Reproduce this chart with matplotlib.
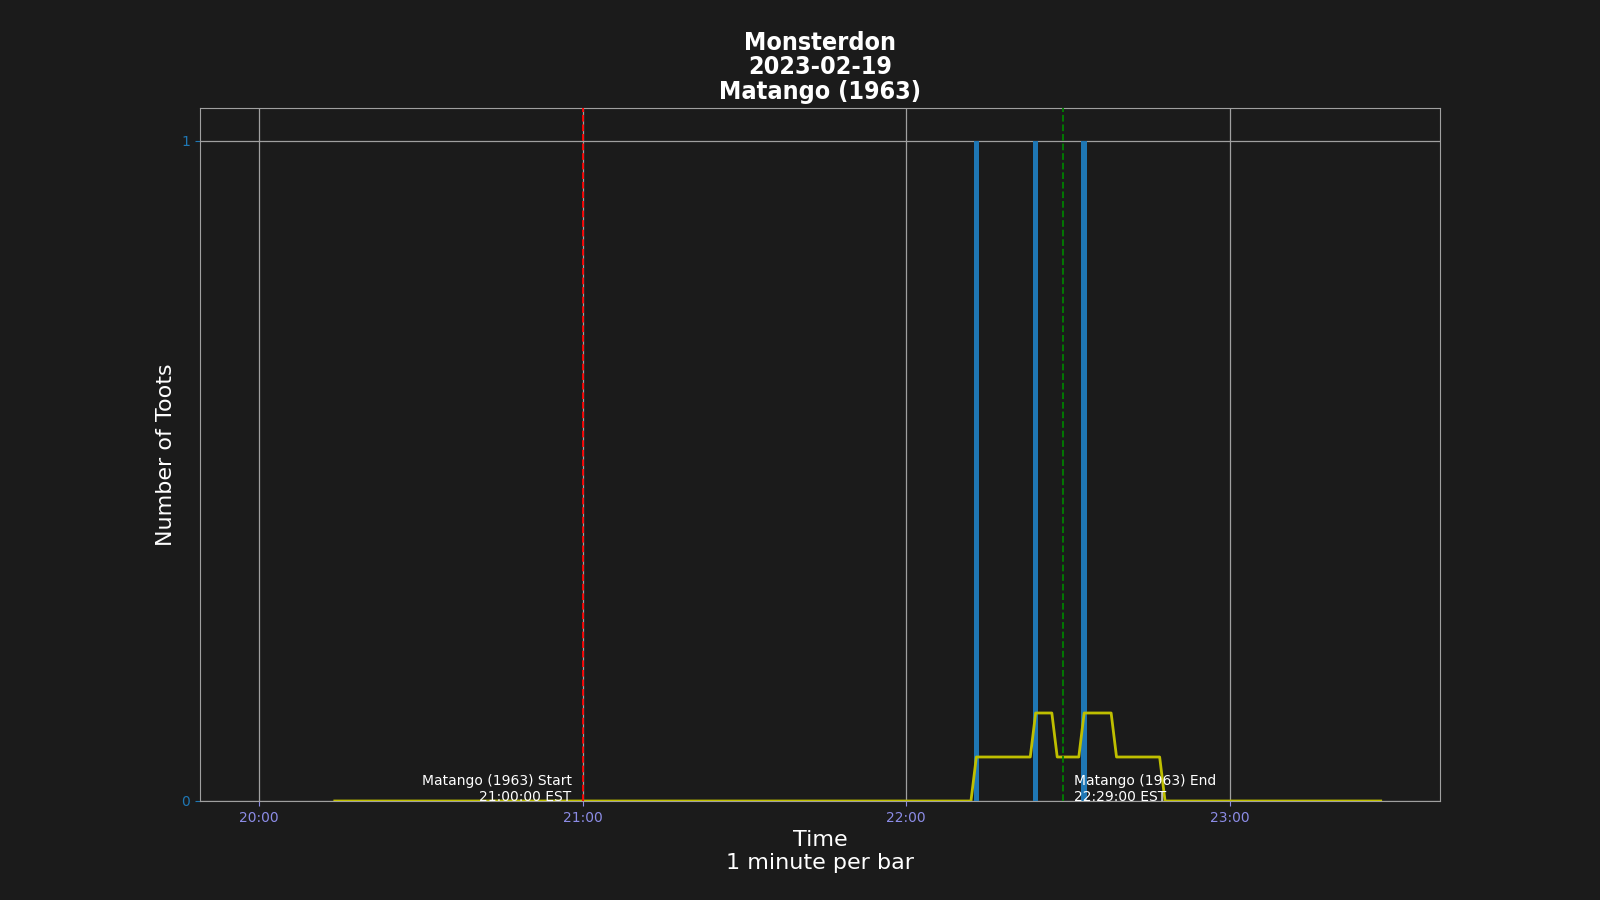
import matplotlib
matplotlib.use("Agg")
import matplotlib.pyplot as plt
import matplotlib.dates as mdates
from matplotlib import font_manager
import pandas as pd

# ---- data ----
title_lines = ["Monsterdon", "2023-02-19", "Matango (1963)"]
bar_times = ["2023-02-19 22:13", "2023-02-19 22:24", "2023-02-19 22:33"]
bar_counts = [1, 1, 1]

avg_times = ["2023-02-19 20:14", "2023-02-19 22:12", "2023-02-19 22:13",
             "2023-02-19 22:23", "2023-02-19 22:24", "2023-02-19 22:27",
             "2023-02-19 22:28", "2023-02-19 22:32", "2023-02-19 22:33",
             "2023-02-19 22:38", "2023-02-19 22:39", "2023-02-19 22:47",
             "2023-02-19 22:48", "2023-02-19 23:28"]
avg_values = [0, 0, 1/15, 1/15, 2/15, 2/15, 1/15, 1/15, 2/15, 2/15, 1/15, 1/15, 0, 0]

start_time = "2023-02-19 21:00"
end_time = "2023-02-19 22:29"
start_label = "Matango (1963) Start\n21:00:00 EST"
end_label = "Matango (1963) End\n22:29:00 EST"
xlim = ["2023-02-19 19:49", "2023-02-19 23:39"]
ylim = [0, 1.05]

# pick a condensed font for the title if one is available
names = {f.name for f in font_manager.fontManager.ttflist}
cond = [f for f in font_manager.fontManager.ttflist
        if ("Condensed" in f.name or "Narrow" in f.name or f.stretch in ("condensed", "semi-condensed"))]
title_kw = dict(family=["DejaVu Sans"], fontweight="bold", fontsize=17)
if cond:
    title_kw = dict(fontproperties=font_manager.FontProperties(
        fname=sorted(cond, key=lambda f: (f.weight != 700 and f.weight != "bold"))[0].fname, size=18))

bg = "#1b1b1b"
fig = plt.figure(figsize=(16, 9), dpi=100, facecolor=bg)
ax = fig.add_axes([0.125, 0.11, 0.775, 0.77], facecolor=bg)

bt = pd.to_datetime(bar_times)
ax.bar(bt, bar_counts, width=1/1440, color="#1f77b4", zorder=3)

at = pd.to_datetime(avg_times)
ax.plot(at, avg_values, color="#bfbf00", lw=2, zorder=4)

st = pd.to_datetime(start_time)
et = pd.to_datetime(end_time)
ax.axvline(st, color="red", ls="--", lw=1.3, zorder=5)
ax.axvline(et, color="green", ls="--", lw=1.3, zorder=5)

ax.annotate(start_label, xy=(st, 0), xytext=(-8, -2), textcoords="offset points",
            ha="right", va="bottom", color="white", fontsize=10, zorder=6)
ax.annotate(end_label, xy=(et, 0), xytext=(8, -2), textcoords="offset points",
            ha="left", va="bottom", color="white", fontsize=10, zorder=6)

ax.set_xlim(pd.to_datetime(xlim[0]), pd.to_datetime(xlim[1]))
ax.set_ylim(*ylim)
ax.set_yticks([0, 1])
ax.xaxis.set_major_locator(mdates.HourLocator())
ax.xaxis.set_major_formatter(mdates.DateFormatter("%H:%M"))

ax.grid(True, color="#a0a0a0", lw=0.9, zorder=0)
ax.set_axisbelow(True)
for s in ax.spines.values():
    s.set_color("#a0a0a0")
ax.tick_params(axis="x", colors="#8c8ce6", labelsize=10)
ax.tick_params(axis="y", colors="#1f77b4", labelsize=10)

ax.set_ylabel("Number of Toots", color="white", fontsize=16, labelpad=4)
ax.set_xlabel("Time\n1 minute per bar", color="white", fontsize=16)

fig.text(0.5125, 0.925, "\n".join(title_lines), ha="center", va="center",
         color="white", linespacing=1.0, **title_kw)

fig.savefig("out.png", dpi=100, facecolor=bg)
